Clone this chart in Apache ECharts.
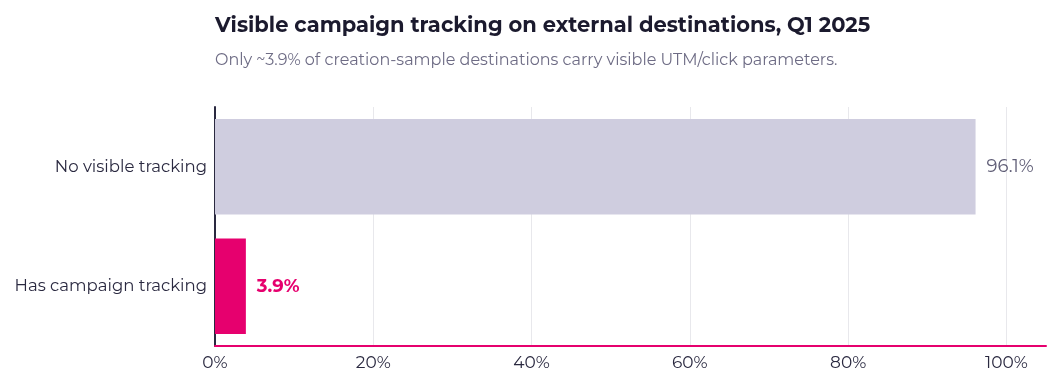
<!DOCTYPE html>
<html>
<head>
<meta charset="utf-8">
<script src="https://cdn.jsdelivr.net/npm/echarts@6/dist/echarts.min.js"></script>
<style>
  html, body { margin: 0; padding: 0; background: #fff; }
  #chart { width: 1061px; height: 385px; }
</style>
</head>
<body>
<div id="chart"></div>
<script>
  // data
  var categories = ['No visible tracking', 'Has campaign tracking'];
  var shares = [96.1, 3.9];
  var barColors = ['#cfcddf', '#e6006e'];
  var labelColors = ['#5e5c75', '#e6006e'];

  var font = 'Montserrat, Lato, "Noto Sans", sans-serif';
  var chart = echarts.init(document.getElementById('chart'));

  var option = {
    backgroundColor: '#fff',
    animation: false,
    title: {
      text: 'Visible campaign tracking on external destinations, Q1 2025',
      subtext: 'Only ~3.9% of creation-sample destinations carry visible UTM/click parameters.',
      left: 210,
      top: 10,
      itemGap: 16,
      textStyle: { fontFamily: font, fontSize: 21, fontWeight: 'bold', color: '#1b1a2e' },
      subtextStyle: { fontFamily: font, fontSize: 16, color: '#6e6c85' }
    },
    grid: { left: 215, right: 15, top: 107, bottom: 39 },
    xAxis: {
      type: 'value',
      min: 0,
      max: 105,
      interval: 20,
      axisLine: { show: true, lineStyle: { color: '#e6006e', width: 2 } },
      axisTick: { show: false },
      splitLine: { show: true, showMaxLine: false, lineStyle: { color: '#e8e8ec' } },
      axisLabel: {
        fontFamily: font, fontSize: 17, color: '#2a2940', margin: 8,
        showMaxLabel: false,
        formatter: function (v) { return v > 100 ? '' : v + '%'; }
      }
    },
    yAxis: {
      type: 'category',
      inverse: true,
      data: categories,
      axisLine: { show: true, lineStyle: { color: '#2a2940', width: 2 } },
      axisTick: { show: false },
      axisLabel: { fontFamily: font, fontSize: 16.5, color: '#2a2940', margin: 8 }
    },
    series: [{
      type: 'bar',
      barWidth: '80%',
      data: shares.map(function (v, i) {
        return {
          value: v,
          itemStyle: { color: barColors[i] },
          label: {
            color: labelColors[i],
            fontWeight: i === 1 ? 'bold' : 'normal'
          }
        };
      }),
      label: {
        show: true,
        position: 'right',
        distance: 11,
        fontFamily: font,
        fontSize: 18,
        formatter: function (p) { return p.value.toFixed(1) + '%'; }
      }
    }]
  };

  chart.setOption(option);
  window.addEventListener('resize', function () { chart.resize(); });
</script>
</body>
</html>
